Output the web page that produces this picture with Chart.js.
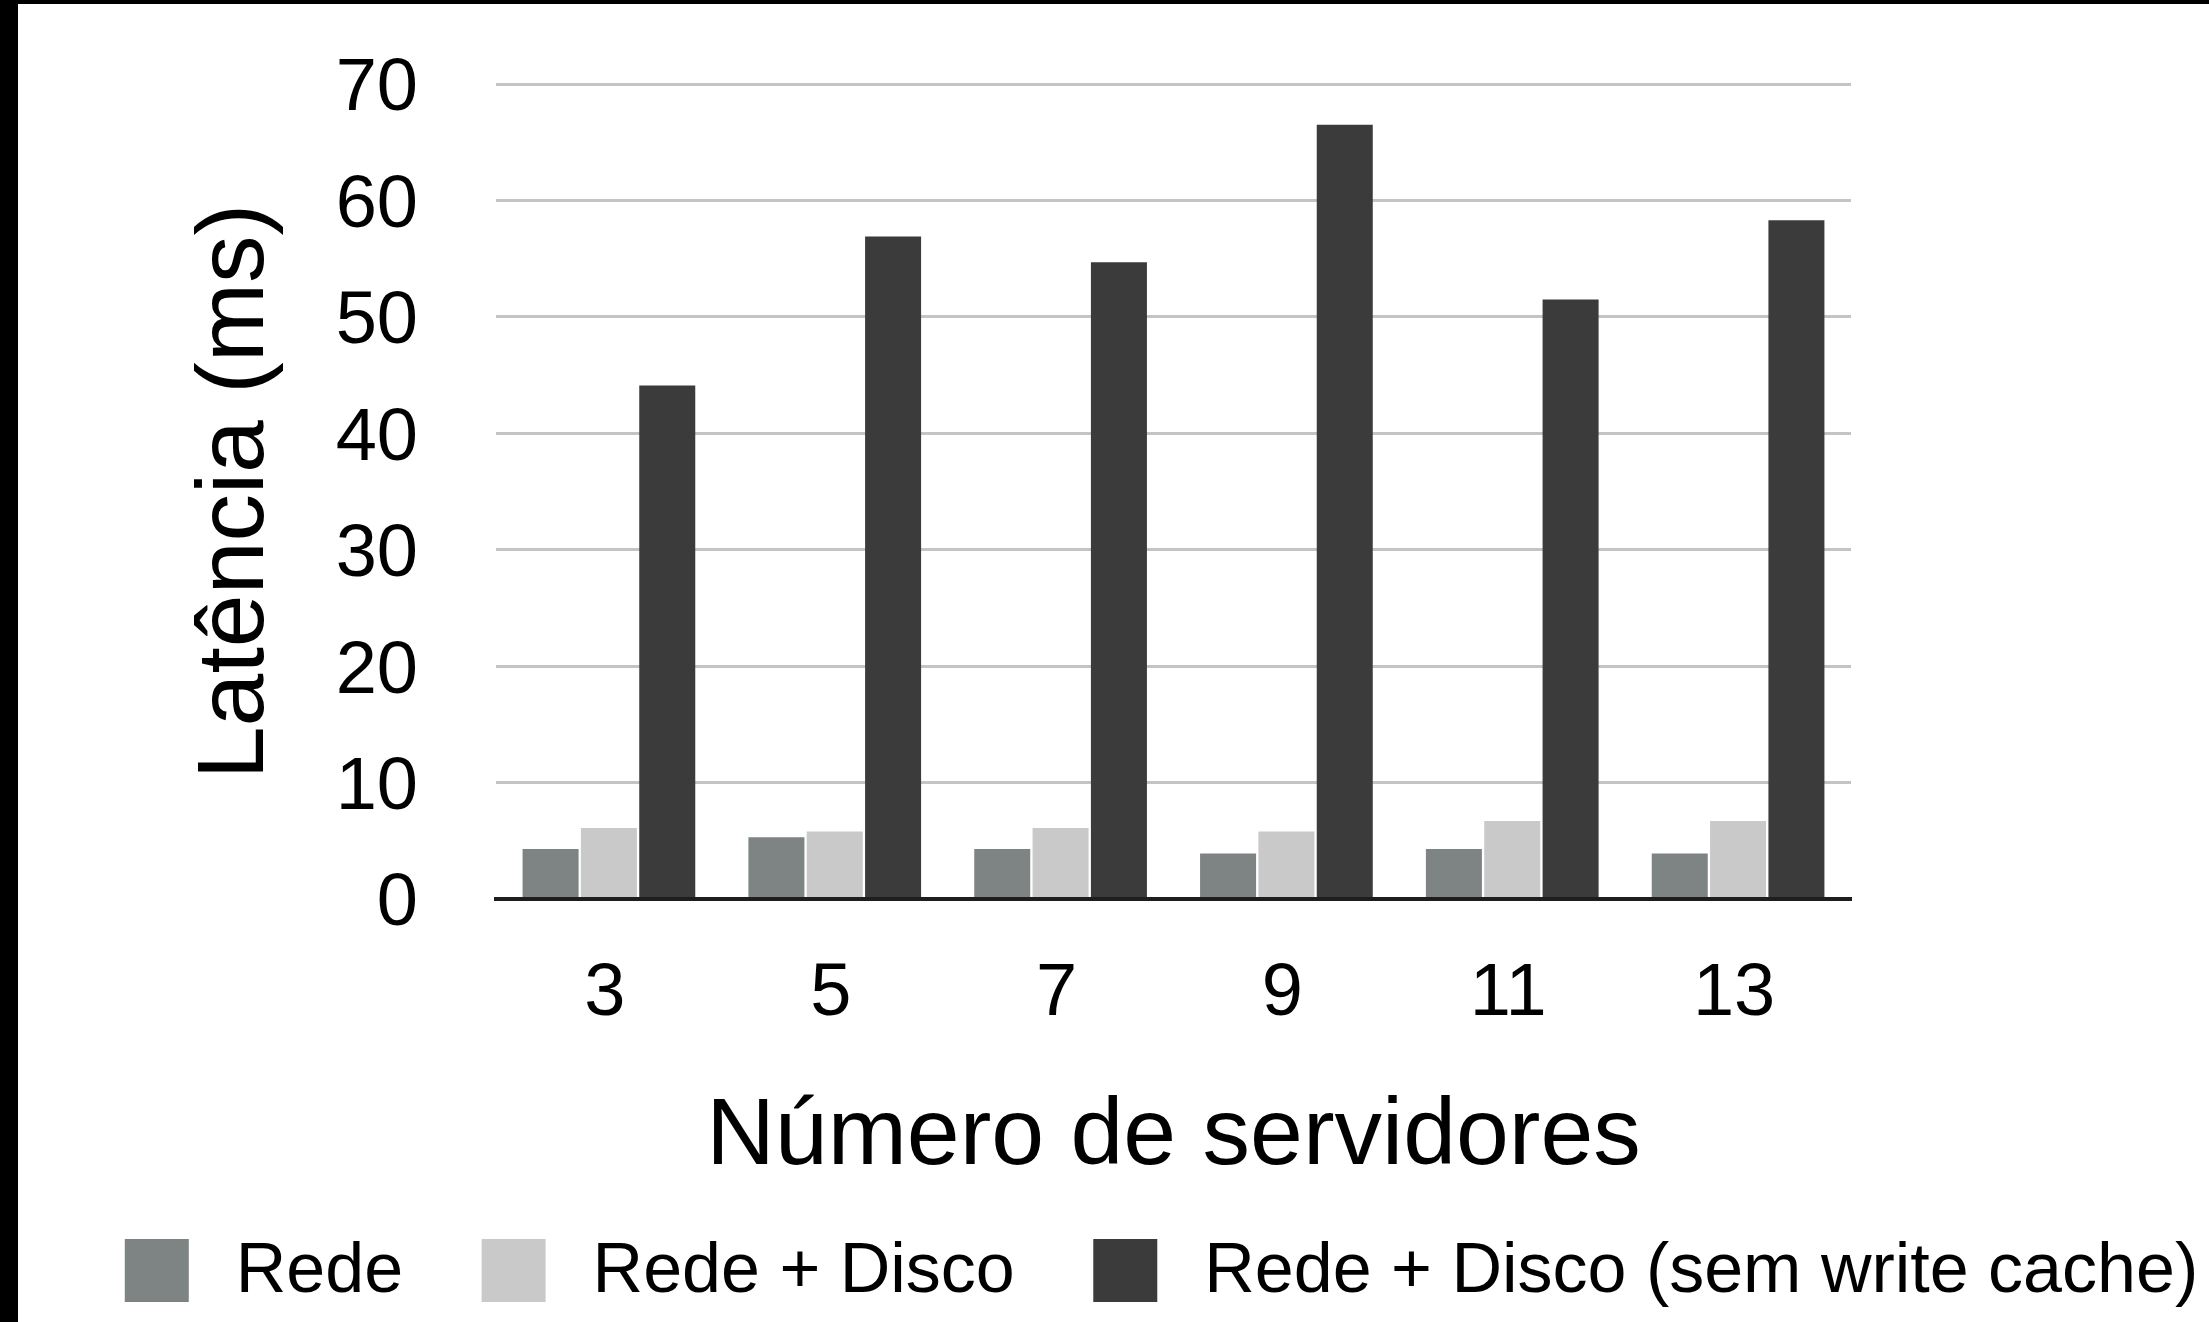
<!DOCTYPE html>
<html>
<head>
<meta charset="utf-8">
<script src="https://cdn.jsdelivr.net/npm/chart.js@4/dist/chart.umd.min.js"></script>
<style>
  html, body { margin: 0; padding: 0; background: #000; overflow: hidden; }
  #wrap { position: absolute; left: 18px; top: 4px; width: 2191px; height: 1318px; background: #fff; }
</style>
</head>
<body>
<div id="wrap"><canvas id="chart"></canvas></div>
<script>
const categories = ["3", "5", "7", "9", "11", "13"];
const rede = [4.3, 5.3, 4.3, 3.9, 4.3, 3.9];
const redeDisco = [6.1, 5.8, 6.1, 5.8, 6.7, 6.7];
const redeDiscoSemCache = [44.1, 56.9, 54.7, 66.5, 51.5, 58.3];
const seriesLabels = ["Rede", "Rede + Disco", "Rede + Disco (sem write cache)"];
const seriesColors = ["#7e8483", "#c9c9c9", "#3b3b3b"];
const yMin = 0, yMax = 70, yStep = 10;

const FONT = '"Liberation Sans", Arial, Helvetica, sans-serif';
Chart.defaults.font.family = FONT;
Chart.defaults.color = "#000";

// legende dessinée à la main (espacements du modèle)
const bottomLegend = {
  id: "bottomLegend",
  afterDraw(chart) {
    const ctx = chart.ctx;
    const sets = chart.data.datasets;
    const boxW = 64, boxH = 63, textGap = 47, itemGap = 78.5;
    ctx.save();
    ctx.font = "70px " + FONT;
    ctx.textBaseline = "middle";
    ctx.textAlign = "left";
    const widths = sets.map(d => ctx.measureText(d.label).width);
    const total = widths.reduce((a, b) => a + b, 0) + sets.length * (boxW + textGap) + (sets.length - 1) * itemGap;
    let x = (chart.width - total) / 2 + 48;
    const cy = chart.scales.x.bottom + 85.5;
    sets.forEach((d, i) => {
      ctx.fillStyle = d.backgroundColor;
      ctx.fillRect(x, cy - boxH / 2, boxW, boxH);
      x += boxW + textGap;
      ctx.fillStyle = "#000";
      ctx.fillText(d.label, x, cy + 2.5);
      x += widths[i] + itemGap;
    });
    ctx.restore();
  }
};

const values = [rede, redeDisco, redeDiscoSemCache];

new Chart(document.getElementById("chart"), {
  type: "bar",
  data: {
    labels: categories,
    datasets: values.map((v, i) => ({
      label: seriesLabels[i],
      data: v,
      backgroundColor: seriesColors[i],
      borderWidth: 0,
      categoryPercentage: 0.775,
      barPercentage: 0.96
    }))
  },
  options: {
    responsive: true,
    maintainAspectRatio: false,
    animation: false,
    layout: { padding: { top: 80, bottom: 137, left: 0, right: 358 } },
    plugins: {
      legend: { display: false },
      tooltip: { enabled: false }
    },
    scales: {
      x: {
        grid: { display: false, drawTicks: false },
        border: { display: true, color: "#1e1e1e", width: 4, z: 1 },
        ticks: { font: { size: 74, lineHeight: 1.2 }, padding: 51, labelOffset: -4, color: "#000" },
        title: { display: true, text: "Número de servidores", font: { size: 95, lineHeight: 1 }, padding: 0, color: "#000" },
        afterFit(scale) { scale.height = 286; }
      },
      y: {
        min: yMin,
        max: yMax,
        // tick marks invisibles : l'écart label/axe passe par tickLength
        grid: { color: "#c4c4c4", lineWidth: 3, drawTicks: true, tickLength: 78, tickColor: "rgba(0,0,0,0)" },
        border: { display: false },
        ticks: { stepSize: yStep, font: { size: 74 }, padding: 0, labelOffset: 6, color: "#000" },
        title: { display: true, text: "Latência (ms)", font: { size: 95, lineHeight: 1 }, padding: { top: 171, bottom: 0 }, color: "#000" },
        afterFit(scale) { scale.width = 478; }
      }
    }
  },
  plugins: [bottomLegend]
});
</script>
</body>
</html>
